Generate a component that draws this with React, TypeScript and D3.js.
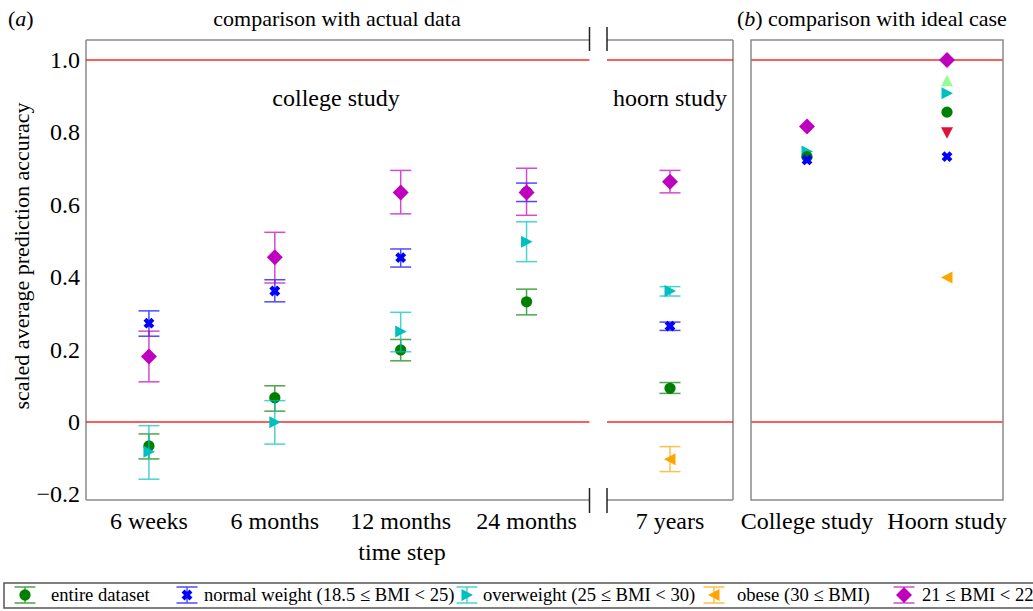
import React from "react";
import * as d3 from "d3";

// ---------- data ----------
const timeSteps = ["6 weeks", "6 months", "12 months", "24 months"];
const hoornStep = ["7 years"];
const studies = ["College study", "Hoorn study"];
const yTicks = [-0.2, 0, 0.2, 0.4, 0.6, 0.8, 1.0];

// panel (a): values for [6 weeks, 6 months, 12 months, 24 months, 7 years]
const entireVal = [-0.066, 0.067, 0.199, 0.332, 0.093];
const entireLo = [-0.102, 0.03, 0.169, 0.296, 0.079];
const entireHi = [-0.033, 0.1, 0.228, 0.367, 0.109];

const normalVal = [0.273, 0.362, 0.454, 0.635, 0.265];
const normalLo = [0.237, 0.332, 0.428, 0.609, 0.253];
const normalHi = [0.307, 0.393, 0.478, 0.66, 0.276];

const overVal = [-0.082, -0.001, 0.25, 0.498, 0.362];
const overLo = [-0.158, -0.061, 0.194, 0.443, 0.348];
const overHi = [-0.01, 0.059, 0.303, 0.553, 0.374];

const obeseVal = [null, null, null, null, -0.103];
const obeseLo = [null, null, null, null, -0.137];
const obeseHi = [null, null, null, null, -0.068];

const bmi21Val = [0.181, 0.455, 0.634, 0.634, 0.664];
const bmi21Lo = [0.111, 0.384, 0.575, 0.571, 0.633];
const bmi21Hi = [0.251, 0.524, 0.695, 0.701, 0.695];

// panel (b): [College study, Hoorn study]
const idealEntire = [0.733, 0.856];
const idealNormal = [0.724, 0.733];
const idealOver = [0.747, 0.908];
const idealObese = [null, 0.399];
const idealBmi21 = [0.816, 1.0];
const idealUpper = [null, 0.943];
const idealLower = [null, 0.799];

const legendLabels = [
  "entire dataset",
  "normal weight (18.5 \u2264 BMI < 25)",
  "overweight (25 \u2264 BMI < 30)",
  "obese (30 \u2264 BMI)",
  "21 \u2264 BMI < 22",
];

// ---------- styles / layout ----------
const FONT = "'Liberation Serif', 'Times New Roman', serif";
const GREEN = "#008000";
const BLUE = "#0000ff";
const CYAN = "#00bfbf";
const ORANGE = "#ffa500";
const MAGENTA = "#bf00bf";
const PALEGREEN = "#98fb98";
const CRIMSON = "#dc143c";
const SPINE = "#8a8a8a";

type Shape = "circle" | "x" | "tri-right" | "tri-left" | "diamond" | "tri-up" | "tri-down";

function shapePath(shape: Shape): string {
  switch (shape) {
    case "circle":
      return d3.symbol(d3.symbolCircle, 100)() as string;
    case "diamond":
      return "M0,-8L8,0L0,8L-8,0Z";
    case "tri-right":
      return "M-5.5,-6L6,0L-5.5,6Z";
    case "tri-left":
      return "M5.5,-6L-6,0L5.5,6Z";
    case "tri-up":
      return "M0,-6L6,5.5L-6,5.5Z";
    case "tri-down":
      return "M0,6L6,-5.5L-6,-5.5Z";
    case "x": {
      const w = 2.1, e = 5.6;
      const pts = [
        [w, w], [w, e], [-w, e], [-w, w], [-e, w], [-e, -w], [-w, -w], [-w, -e], [w, -e], [w, -w], [e, -w], [e, w],
      ];
      const c = Math.SQRT1_2;
      return (
        "M" +
        pts.map(([x, y]) => `${(x * c - y * c).toFixed(2)},${(x * c + y * c).toFixed(2)}`).join("L") +
        "Z"
      );
    }
  }
}

const seriesA = [
  { name: "entire", val: entireVal, lo: entireLo, hi: entireHi, color: GREEN, shape: "circle" as Shape },
  { name: "normal", val: normalVal, lo: normalLo, hi: normalHi, color: BLUE, shape: "x" as Shape },
  { name: "over", val: overVal, lo: overLo, hi: overHi, color: CYAN, shape: "tri-right" as Shape },
  { name: "obese", val: obeseVal, lo: obeseLo, hi: obeseHi, color: ORANGE, shape: "tri-left" as Shape },
  { name: "bmi21", val: bmi21Val, lo: bmi21Lo, hi: bmi21Hi, color: MAGENTA, shape: "diamond" as Shape },
];

const seriesB = [
  { val: idealUpper, color: PALEGREEN, shape: "tri-up" as Shape },
  { val: idealLower, color: CRIMSON, shape: "tri-down" as Shape },
  { val: idealObese, color: ORANGE, shape: "tri-left" as Shape },
  { val: idealOver, color: CYAN, shape: "tri-right" as Shape },
  { val: idealEntire, color: GREEN, shape: "circle" as Shape },
  { val: idealNormal, color: BLUE, shape: "x" as Shape },
  { val: idealBmi21, color: MAGENTA, shape: "diamond" as Shape },
];

const legendHandleX = [25, 187, 467, 714, 904];
const legendTextX = [51, 204, 483, 737, 922];

export default function App() {
  const W = 1033, H = 611;
  const top = 40, bottom = 500;
  const y = d3.scaleLinear().domain([-0.2, 1.0]).range([494.4, 60]);

  const aL = 86, aBreak1 = 589.5, aBreak2 = 607, aR = 733;
  const bL = 751, bR = 1003;
  const xA = d3.scaleLinear().domain([0.5, timeSteps.length + 0.5]).range([aL, aBreak1]);
  const xH = d3.scaleLinear().domain([0.5, hoornStep.length + 0.5]).range([aBreak2, aR]);
  const xB = d3.scaleLinear().domain([0.6, studies.length + 0.4]).range([bL, bR]);

  const xPosA = (i: number) => (i < timeSteps.length ? xA(i + 1) : xH(i - timeSteps.length + 1));
  const cap = 10.5;

  const spine = { stroke: SPINE, strokeWidth: 1.5, fill: "none" };
  const red = { stroke: "#ff0000", strokeWidth: 1.5, opacity: 0.85 };
  const FS = 24;

  return (
    <svg
      width={W}
      height={H}
      style={{ position: "absolute", left: 0, top: 0, background: "#fff" }}
      fontFamily={FONT}
    >
      <rect x={0} y={0} width={W} height={H} fill="#fff" />
      {/* titles */}
      <text x={8} y={26} fontSize={22}>
        (<tspan fontStyle="italic">a</tspan>)
      </text>
      <text x={337} y={26} fontSize={22} textAnchor="middle">comparison with actual data</text>
      <text x={737} y={26} fontSize={22}>
        (<tspan fontStyle="italic">b</tspan>)
      </text>
      <text x={768} y={26} fontSize={22}>comparison with ideal case</text>

      {/* panel a frame */}
      <line x1={aL} y1={top} x2={aBreak1} y2={top} {...spine} />
      <line x1={aL} y1={bottom} x2={aBreak1} y2={bottom} {...spine} />
      <line x1={aL} y1={top} x2={aL} y2={bottom} {...spine} />
      <line x1={aBreak2} y1={top} x2={aR} y2={top} {...spine} />
      <line x1={aBreak2} y1={bottom} x2={aR} y2={bottom} {...spine} />
      <line x1={aR} y1={top} x2={aR} y2={bottom} {...spine} />
      {[aBreak1, aBreak2].map((bx, i) => (
        <g key={i} stroke="#222" strokeWidth={1.5}>
          <line x1={bx} y1={27} x2={bx} y2={51} />
          <line x1={bx} y1={488} x2={bx} y2={513} />
        </g>
      ))}

      {/* red reference lines */}
      {[0, 1].map((v) => (
        <g key={v}>
          <line x1={aL} x2={aBreak1} y1={y(v)} y2={y(v)} {...red} />
          <line x1={aBreak2} x2={aR} y1={y(v)} y2={y(v)} {...red} />
          <line x1={bL} x2={bR} y1={y(v)} y2={y(v)} {...red} />
        </g>
      ))}

      {/* y ticks */}
      {yTicks.map((t) => (
        <text key={t} x={80} y={y(t) + 8} fontSize={FS} textAnchor="end">
          {t === 0 ? "0" : t < 0 ? "\u2212" + Math.abs(t).toFixed(1) : t.toFixed(1)}
        </text>
      ))}
      <text transform={`translate(29,256) rotate(-90)`} fontSize={22} textAnchor="middle">
        scaled average prediction accuracy
      </text>

      {/* x ticks */}
      {timeSteps.map((t, i) => (
        <text key={t} x={xA(i + 1)} y={529} fontSize={FS} textAnchor="middle">{t}</text>
      ))}
      {hoornStep.map((t, i) => (
        <text key={t} x={xH(i + 1)} y={529} fontSize={FS} textAnchor="middle">{t}</text>
      ))}
      <text x={402} y={560} fontSize={FS} textAnchor="middle">time step</text>

      <text x={336} y={106} fontSize={FS} textAnchor="middle">college study</text>
      <text x={670} y={106} fontSize={FS} textAnchor="middle">hoorn study</text>

      {/* panel a data */}
      {seriesA.map((s) => (
        <g key={s.name}>
          {s.val.map((v, i) => {
            if (v === null) return null;
            const cx = xPosA(i);
            const lo = s.lo[i] as number, hi = s.hi[i] as number;
            return (
              <g key={i}>
                <g stroke={s.color} strokeWidth={1.5} opacity={0.7}>
                  <line x1={cx} x2={cx} y1={y(lo)} y2={y(hi)} />
                  <line x1={cx - cap} x2={cx + cap} y1={y(lo)} y2={y(lo)} />
                  <line x1={cx - cap} x2={cx + cap} y1={y(hi)} y2={y(hi)} />
                </g>
                <path d={shapePath(s.shape)} transform={`translate(${cx},${y(v)})`} fill={s.color} />
              </g>
            );
          })}
        </g>
      ))}

      {/* panel b frame */}
      <rect x={bL} y={top} width={bR - bL} height={bottom - top} {...spine} />
      {studies.map((t, i) => (
        <text key={t} x={xB(i + 1)} y={529} fontSize={FS} textAnchor="middle">{t}</text>
      ))}
      {seriesB.map((s, k) => (
        <g key={k}>
          {s.val.map((v, i) =>
            v === null ? null : (
              <path key={i} d={shapePath(s.shape)} transform={`translate(${xB(i + 1)},${y(v)})`} fill={s.color} />
            )
          )}
        </g>
      ))}

      {/* legend */}
      <rect x={4} y={583} width={1060} height={25} fill="#fff" stroke="#555" strokeWidth={1.5} />
      {legendLabels.map((lab, i) => {
        const s = seriesA[i];
        const cx = legendHandleX[i];
        const cy = 595;
        return (
          <g key={lab}>
            <g stroke={s.color} strokeWidth={1.5} opacity={0.7}>
              <line x1={cx} x2={cx} y1={587} y2={603} />
              <line x1={cx - cap} x2={cx + cap} y1={587} y2={587} />
              <line x1={cx - cap} x2={cx + cap} y1={603} y2={603} />
            </g>
            <path d={shapePath(s.shape)} transform={`translate(${cx},${cy})`} fill={s.color} />
            <text x={legendTextX[i]} y={601} fontSize={18.6}>{lab}</text>
          </g>
        );
      })}
    </svg>
  );
}
